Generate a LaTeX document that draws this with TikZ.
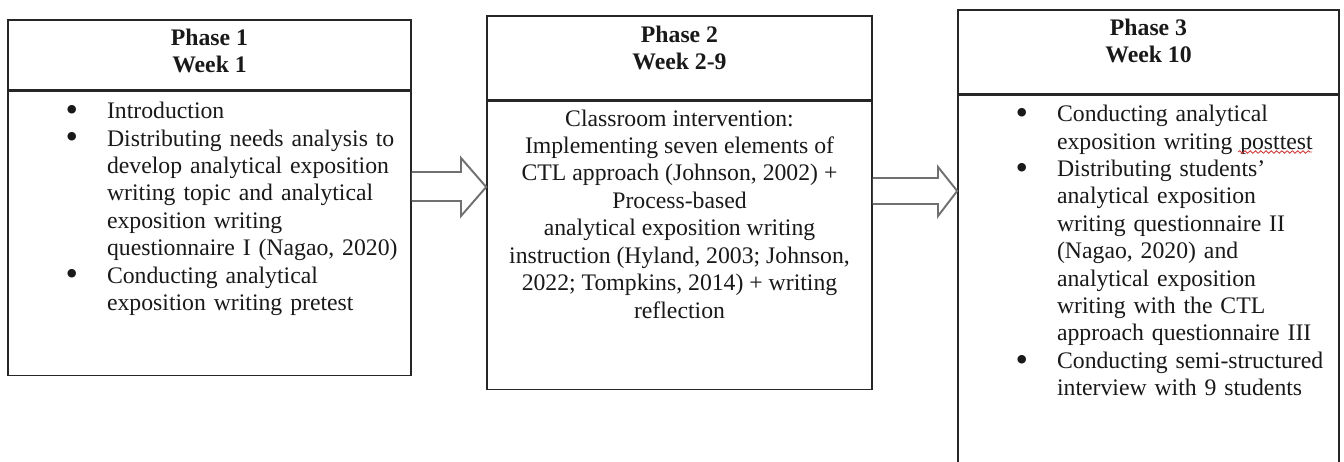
\documentclass[tikz,border=0pt]{standalone}
\usepackage{fontspec}
\setmainfont{Liberation Serif}
\usepackage{tikz}
\usetikzlibrary{positioning,calc,decorations.pathmorphing}
\definecolor{boxline}{HTML}{262626}
\definecolor{arrowgray}{HTML}{707070}
\definecolor{spellred}{HTML}{D23C3C}
\newcommand{\bitem}{\ifvmode\noindent\fi\hangindent=0.83cm\hangafter=1\hbox to 0.83cm{\raisebox{-1.6pt}{\scalebox{1.5}{\textbullet}}\hfil}}
\tikzset{
  phasehead/.style={draw=boxline, line width=0.9pt, fill=white, inner sep=0pt},
  phasebody/.style={draw=boxline, line width=0.9pt, fill=white, inner sep=0pt},
  headtext/.style={font=\fontsize{13.5}{15.6}\selectfont\bfseries, align=center, inner sep=0pt, text=black!90},
  listtext/.style={font=\fontsize{13.5}{15.6}\selectfont, align=left, text width=7.2cm, inner sep=0pt, text=black!90},
  bodytext/.style={font=\fontsize{13.5}{15.6}\selectfont, align=center, inner sep=0pt, text=black!90},
  blockarrow/.style={draw=arrowgray, line width=1.1pt, fill=white, line join=miter},
  spellmark/.style={draw=spellred, line width=0.5pt, decorate, decoration={snake, amplitude=0.7pt, segment length=3pt}}
}
\begin{document}
\begin{tikzpicture}
  \useasboundingbox (0,0) rectangle (26.88,-9.24);

  \node[phasehead, minimum width=8.06cm, minimum height=1.40cm] (p1head) at (4.19,-1.10) {};
  \node[phasebody, minimum width=8.06cm, minimum height=5.68cm, below=0pt of p1head] (p1body) {};
  \node[phasehead, minimum width=7.70cm, minimum height=1.68cm] (p2head) at (13.59,-1.16) {};
  \node[phasebody, minimum width=7.70cm, minimum height=5.76cm, below=0pt of p2head] (p2body) {};
  \node[phasehead, minimum width=7.62cm, minimum height=1.68cm] (p3head) at (22.97,-1.04) {};
  \node[phasebody, minimum width=7.62cm, minimum height=7.70cm, below=0pt of p3head] (p3body) {};

  \node[headtext, anchor=north, below=0.18cm of p1head.north] (p1title) {Phase 1\\Week 1};
  \node[headtext, anchor=north, below=0.20cm of p2head.north] (p2title) {Phase 2\\Week 2-9};
  \node[headtext, anchor=north, below=0.18cm of p3head.north] (p3title) {Phase 3\\Week 10};

  \node[listtext, anchor=north west, below right=0.22cm and 1.16cm of p1body.north west] (p1list) {%
    \bitem Introduction\par
    \bitem Distributing needs analysis to\newline develop analytical exposition\newline writing topic and analytical\newline exposition writing\newline questionnaire I (Nagao, 2020)\par
    \bitem Conducting analytical\newline exposition writing pretest\par};
  \node[bodytext, anchor=north, below=0.17cm of p2body.north] (p2text) {Classroom intervention:\\
    Implementing seven elements of\\
    CTL approach (Johnson, 2002) +\\
    Process-based\\
    analytical exposition writing\\
    instruction (Hyland, 2003; Johnson,\\
    2022; Tompkins, 2014) + writing\\
    reflection};
  \node[listtext, anchor=north west, below right=0.20cm and 1.16cm of p3body.north west] (p3list) {%
    \bitem Conducting analytical\newline exposition writing posttest\par
    \bitem Distributing students'\newline analytical exposition\newline writing questionnaire II\newline (Nagao, 2020) and\newline analytical exposition\newline writing with the CTL\newline approach questionnaire III\par
    \bitem Conducting semi-structured\newline interview with 9 students\par};

  \draw[spellmark] (24.76,-3.04) -- (26.24,-3.04);

  \draw[blockarrow] (p1body.east |- 0,-3.44) -- (9.22,-3.44) -- (9.22,-3.16) -- (p2body.west |- 0,-3.74)
    -- (9.22,-4.32) -- (9.22,-4.02) -- (p1body.east |- 0,-4.02);
  \draw[blockarrow] (p2body.east |- 0,-3.56) -- (18.76,-3.56) -- (18.76,-3.34) -- (p3body.west |- 0,-3.82)
    -- (18.76,-4.32) -- (18.76,-4.08) -- (p2body.east |- 0,-4.08);
\end{tikzpicture}
\end{document}
